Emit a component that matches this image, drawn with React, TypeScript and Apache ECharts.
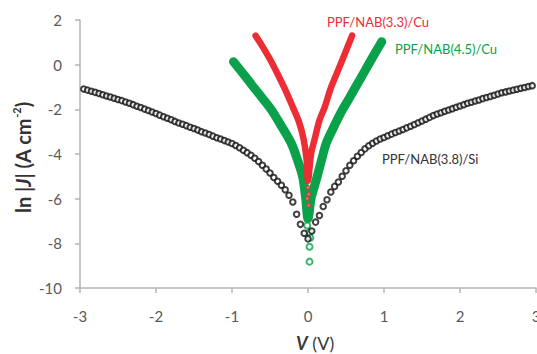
import React, { useEffect, useRef } from "react";
import * as echarts from "echarts";

const xTicks = [-3, -2, -1, 0, 1, 2, 3];
const yTicks = [-10, -8, -6, -4, -2, 0, 2];

const siVoltage = [
  -2.95, -2.9, -2.85, -2.8, -2.75, -2.7, -2.65, -2.6, -2.55, -2.5,
  -2.45, -2.4, -2.35, -2.3, -2.25, -2.2, -2.15, -2.1, -2.05, -2.0,
  -1.95, -1.9, -1.85, -1.8, -1.75, -1.7, -1.65, -1.6, -1.55, -1.5,
  -1.45, -1.4, -1.35, -1.3, -1.25, -1.2, -1.15, -1.1, -1.05, -1.0,
  -0.95, -0.9, -0.85, -0.8, -0.75, -0.7, -0.65, -0.6, -0.55, -0.5,
  -0.45, -0.4, -0.35, -0.3, -0.25, -0.2, -0.15, -0.1, -0.05, 0.0,
  0.05, 0.1, 0.15, 0.2, 0.25, 0.3, 0.35, 0.4, 0.45, 0.5,
  0.55, 0.6, 0.65, 0.7, 0.75, 0.8, 0.85, 0.9, 0.95, 1.0,
  1.05, 1.1, 1.15, 1.2, 1.25, 1.3, 1.35, 1.4, 1.45, 1.5,
  1.55, 1.6, 1.65, 1.7, 1.75, 1.8, 1.85, 1.9, 1.95, 2.0,
  2.05, 2.1, 2.15, 2.2, 2.25, 2.3, 2.35, 2.4, 2.45, 2.5,
  2.55, 2.6, 2.65, 2.7, 2.75, 2.8, 2.85, 2.9, 2.95,
];
const siLnJ = [
  -1.09, -1.14, -1.19, -1.24, -1.29, -1.35, -1.4, -1.45, -1.5, -1.56,
  -1.61, -1.67, -1.73, -1.79, -1.86, -1.92, -1.99, -2.05, -2.12, -2.19,
  -2.26, -2.33, -2.4, -2.47, -2.54, -2.61, -2.67, -2.73, -2.8, -2.86,
  -2.93, -3.0, -3.06, -3.13, -3.2, -3.27, -3.33, -3.4, -3.46, -3.53,
  -3.62, -3.72, -3.83, -3.94, -4.06, -4.19, -4.34, -4.5, -4.67, -4.85,
  -5.05, -5.22, -5.4, -5.6, -5.85, -6.15, -6.7, -7.15, -7.55, -7.8,
  -7.45, -7.05, -6.75, -6.35, -6.05, -5.7, -5.45, -5.25, -5.0, -4.75,
  -4.5, -4.3, -4.1, -3.93, -3.77, -3.63, -3.52, -3.42, -3.33, -3.26,
  -3.18, -3.11, -3.04, -2.97, -2.9, -2.83, -2.76, -2.68, -2.6, -2.52,
  -2.44, -2.36, -2.28, -2.21, -2.15, -2.09, -2.03, -1.97, -1.91, -1.85,
  -1.79, -1.73, -1.68, -1.63, -1.58, -1.52, -1.47, -1.42, -1.37, -1.31,
  -1.26, -1.22, -1.18, -1.14, -1.1, -1.06, -1.02, -0.98, -0.94,
];

const cu33Voltage = [-0.69, -0.6, -0.5, -0.4, -0.3, -0.2, -0.12, -0.06, -0.02, 0.0, 0.04, 0.09, 0.15, 0.22, 0.3, 0.4, 0.5, 0.58];
const cu33LnJ = [1.3, 0.82, 0.24, -0.42, -1.12, -1.9, -2.55, -3.3, -4.2, -5.2, -4.0, -3.3, -2.5, -1.9, -1.05, -0.22, 0.62, 1.3];

const cu45Voltage = [-0.98, -0.85, -0.72, -0.6, -0.48, -0.35, -0.22, -0.14, -0.07, -0.03, 0.0, 0.04, 0.08, 0.12, 0.18, 0.24, 0.34, 0.44, 0.53, 0.63, 0.73, 0.85, 0.97];
const cu45LnJ = [0.13, -0.42, -0.99, -1.5, -2.03, -2.75, -3.52, -4.25, -5.02, -6.0, -6.9, -6.0, -5.5, -5.02, -4.25, -3.52, -2.78, -2.1, -1.58, -0.98, -0.39, 0.33, 1.03];

const cu45TailVoltage = [-0.01, 0.02, 0.03, 0.02, 0.02];
const cu45TailLnJ = [-7.2, -7.5, -7.75, -8.15, -8.82];

const cu33TailVoltage = [0.0, 0.01, -0.01, 0.01];
const cu33TailLnJ = [-5.5, -5.8, -6.0, -6.3];

const seriesLabels = ["PPF/NAB(3.3)/Cu", "PPF/NAB(4.5)/Cu", "PPF/NAB(3.8)/Si"];

const RED = "#ec2d35";
const GREEN = "#0ba14b";
const FONT = "Lato, 'Open Sans', sans-serif";

const zip = (a: number[], b: number[]) => a.map((v, i) => [v, b[i]]);

export default function App() {
  const ref = useRef<HTMLDivElement>(null);
  useEffect(() => {
    if (!ref.current) return;
    const chart = echarts.init(ref.current, null, { renderer: "svg" });
    const axisLine = { onZero: false, lineStyle: { color: "#b5b5b5", width: 1.5 } };
    chart.setOption({
      animation: false,
      backgroundColor: "#ffffff",
      grid: { left: 80, right: 1, top: 20, bottom: 66, containLabel: false, outerBoundsMode: "none" },
      xAxis: {
        type: "value",
        min: xTicks[0],
        max: xTicks[xTicks.length - 1],
        interval: 1,
        axisLine,
        axisTick: { show: true, length: 5, lineStyle: { color: "#b5b5b5", width: 1.5 } },
        splitLine: { show: false },
        axisLabel: { color: "#595959", fontSize: 15, fontFamily: FONT, margin: 20, showMaxLabel: true, hideOverlap: false },
      },
      yAxis: {
        type: "value",
        min: yTicks[0],
        max: yTicks[yTicks.length - 1],
        interval: 2,
        axisLine,
        axisTick: { show: true, length: 5, lineStyle: { color: "#b5b5b5", width: 1.5 } },
        splitLine: { show: false },
        axisLabel: { color: "#595959", fontSize: 15, fontFamily: FONT, margin: 18 },
      },
      series: [
        {
          type: "line",
          data: zip(cu45Voltage, cu45LnJ),
          showSymbol: false,
          smooth: 0.3,
          lineStyle: { color: GREEN, width: 9, cap: "round", join: "round" },
          z: 1,
        },
        {
          type: "scatter",
          data: zip(cu45TailVoltage, cu45TailLnJ),
          symbol: "emptyCircle",
          symbolSize: 6,
          itemStyle: { color: GREEN, borderWidth: 1.3 },
          z: 1,
        },
        {
          type: "line",
          data: zip(cu33Voltage, cu33LnJ),
          showSymbol: false,
          smooth: 0.3,
          lineStyle: { color: RED, width: 6.5, cap: "round", join: "round" },
          z: 2,
        },
        {
          type: "scatter",
          data: zip(cu33TailVoltage, cu33TailLnJ),
          symbol: "emptyCircle",
          symbolSize: 3,
          itemStyle: { color: RED, borderWidth: 1 },
          z: 2,
        },
        {
          type: "scatter",
          data: zip(siVoltage, siLnJ),
          symbol: "emptyCircle",
          symbolSize: 5.5,
          itemStyle: { color: "#111111", borderWidth: 1.2 },
          z: 3,
        },
      ],
      graphic: [
        {
          type: "text",
          left: 327,
          top: 15,
          style: { text: seriesLabels[0], fill: RED, font: `13px ${FONT}` },
        },
        {
          type: "text",
          left: 395,
          top: 42,
          style: { text: seriesLabels[1], fill: GREEN, font: `13px ${FONT}` },
        },
        {
          type: "text",
          left: 382,
          top: 152,
          style: { text: seriesLabels[2], fill: "#333", font: `13px ${FONT}` },
        },
        {
          type: "text",
          x: 296,
          y: 334,
          style: {
            text: "{i|V}{n| (V)}",
            rich: {
              i: { fontSize: 18, fontStyle: "italic", fontWeight: "bold", fontFamily: FONT, fill: "#3a3a3a" },
              n: { fontSize: 18, fontFamily: FONT, fill: "#3a3a3a" },
            },
          },
        },
        {
          type: "text",
          x: 11,
          y: 213,
          rotation: Math.PI / 2,
          style: {
            text: "{a|ln |}{j|J}{a|| (A cm}{s|-2}{a|)}",
            rich: {
              a: { fontSize: 20, fontWeight: "bold", fontFamily: FONT, fill: "#333", lineHeight: 22, verticalAlign: "bottom" },
              j: { fontSize: 20, fontWeight: "bold", fontStyle: "italic", fontFamily: FONT, fill: "#333", lineHeight: 22, verticalAlign: "bottom" },
              s: { fontSize: 11, fontWeight: "bold", fontFamily: FONT, fill: "#333", lineHeight: 13, verticalAlign: "top" },
            },
          },
        },
      ],
    });
    return () => chart.dispose();
  }, []);
  return (
    <div
      ref={ref}
      style={{ position: "fixed", left: 0, top: 0, width: 537, height: 354, background: "#fff" }}
    />
  );
}
